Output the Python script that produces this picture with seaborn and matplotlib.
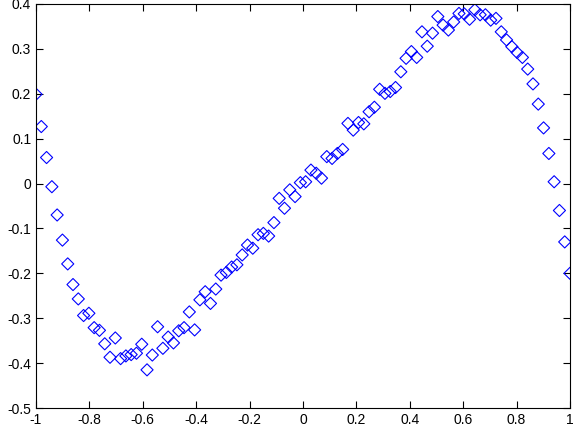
import numpy as np
import pandas as pd
import matplotlib
matplotlib.use("Agg")
import matplotlib.pyplot as plt
import seaborn as sns
from matplotlib.ticker import FuncFormatter

# y values, left to right (evenly spaced in x over [-1, 1])
y_vals = [
    0.199, 0.127, 0.058, -0.007, -0.070, -0.126, -0.179, -0.225, -0.257, -0.294,
    -0.289, -0.321, -0.327, -0.357, -0.387, -0.344, -0.390, -0.384, -0.381, -0.378,
    -0.358, -0.415, -0.382, -0.319, -0.367, -0.342, -0.355, -0.328, -0.321, -0.286,
    -0.326, -0.259, -0.241, -0.267, -0.235, -0.204, -0.198, -0.186, -0.181, -0.159,
    -0.137, -0.144, -0.114, -0.111, -0.117, -0.087, -0.033, -0.055, -0.014, -0.029,
    0.002, 0.004, 0.030, 0.023, 0.012, 0.060, 0.056, 0.067, 0.076, 0.134,
    0.119, 0.136, 0.133, 0.160, 0.170, 0.210, 0.201, 0.205, 0.214, 0.249,
    0.279, 0.294, 0.281, 0.338, 0.306, 0.335, 0.372, 0.353, 0.342, 0.360,
    0.379, 0.378, 0.366, 0.387, 0.376, 0.376, 0.364, 0.368, 0.338, 0.320,
    0.305, 0.292, 0.281, 0.255, 0.222, 0.177, 0.124, 0.067, 0.004, -0.060,
    -0.130, -0.200,
]
x_ticks = [-1, -0.8, -0.6, -0.4, -0.2, 0, 0.2, 0.4, 0.6, 0.8, 1]
y_ticks = [-0.5, -0.4, -0.3, -0.2, -0.1, 0, 0.1, 0.2, 0.3, 0.4]

df = pd.DataFrame({"x": np.linspace(-1, 1, len(y_vals)), "y": y_vals})

sns.set_style("ticks")
plt.rcParams["font.family"] = ["Liberation Sans", "DejaVu Sans"]
plt.rcParams["axes.unicode_minus"] = False
plt.rcParams["xtick.direction"] = "in"
plt.rcParams["ytick.direction"] = "in"

fig = plt.figure(figsize=(5.74, 4.26), dpi=100)
ax = fig.add_axes([36 / 574, 1 - 408 / 426, 534 / 574, 404 / 426])

sns.scatterplot(data=df, x="x", y="y", ax=ax, marker="D", s=38,
                facecolor="none", edgecolor="#0000ff", linewidth=0.8)

ax.set_xlim(-1, 1)
ax.set_ylim(-0.5, 0.4)
ax.set_xticks(x_ticks)
ax.set_yticks(y_ticks)
fmt = FuncFormatter(lambda v, p: "%g" % round(v, 2))
ax.xaxis.set_major_formatter(fmt)
ax.yaxis.set_major_formatter(fmt)
ax.tick_params(top=True, right=True, length=5, width=0.8, labelsize=10, colors="black")
for s in ax.spines.values():
    s.set_visible(True)
    s.set_linewidth(0.8)
    s.set_color("black")
ax.set_xlabel("")
ax.set_ylabel("")

fig.savefig("out.png", dpi=100)
